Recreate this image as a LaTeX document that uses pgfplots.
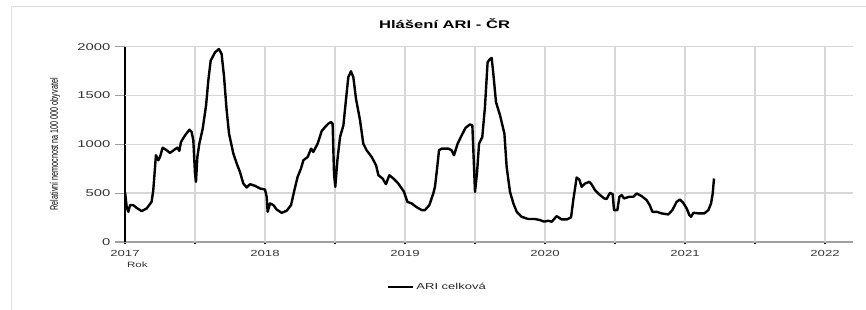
\documentclass[border=0pt]{standalone}
\usepackage{pgfplots}
\pgfplotsset{compat=1.18}
\usepackage{fontspec}
\setmainfont{Liberation Sans}
\usepackage{graphicx}
\newcommand\wide[1]{\scalebox{1.5}[1]{#1}}
\definecolor{axc}{RGB}{160,160,160}
\definecolor{gridc}{RGB}{215,215,215}
\definecolor{framec}{RGB}{222,222,222}

\begin{document}
\begin{tikzpicture}
\useasboundingbox (0,0) rectangle (649.5pt,232.5pt);
\draw[framec, line width=0.75pt] (8.25pt,0pt) -- (8.25pt,227.25pt) -- (649.5pt,227.25pt);
\begin{axis}[
  at={(93.75pt,51pt)}, anchor=south west,
  scale only axis, width=546pt, height=146.5pt,
  xmin=2017, xmax=2022.2, ymin=0, ymax=2000,
  axis x line*=bottom, axis y line*=left,
  axis line style={-},
  x axis line style={draw=axc, line width=1.1pt},
  y axis line style={draw=black, line width=1.1pt},
  tick align=outside,
  major tick length=7.5pt,
  xmajorgrids=true, ymajorgrids=true,
  major grid style={draw=gridc, line width=1.2pt},
  xtick={2017,2017.5,2018,2018.5,2019,2019.5,2020,2020.5,2021,2021.5,2022},
  xticklabels={\wide{2017},,\wide{2018},,\wide{2019},,\wide{2020},,\wide{2021},,\wide{2022}},
  x tick style={black, line width=1.6pt, /pgfplots/major tick length=1.6pt},
  ytick={0,500,1000,1500,2000},
  yticklabels={\wide{0},\wide{500},\wide{1000},\wide{1500},\wide{2000}},
  y tick style={axc, line width=0.9pt},
  xticklabel style={font=\fontsize{6.6}{8}\selectfont, text=black!80, yshift=4.5pt},
  yticklabel style={font=\fontsize{7.4}{9}\selectfont, text=black!80},
  title={\wide{Hlášení ARI - ČR}},
  every axis title/.style={at={(0.439,1.116)}, anchor=center, font=\bfseries\fontsize{8.3}{10}\selectfont},
  xlabel={\wide{Rok}},
  xlabel style={at={(0.017,-0.118)}, anchor=center, font=\fontsize{5.8}{7}\selectfont, text=black!80},
  ylabel={\scalebox{1}[1.5]{Relativní nemocnost na 100 000 obyvatel}},
  ylabel style={at={(-0.096,0.5)}, anchor=center, rotate=0, font=\fontsize{5.4}{6.5}\selectfont},
  legend style={at={(0.43,-0.23)}, anchor=center, draw=none, fill=none, font=\fontsize{6.5}{8}\selectfont, text=black!85},
  legend image code/.code={\draw[#1, line width=0.9pt] (0pt,0pt) -- (18.75pt,0pt);},
]
% grid lines (explicit, same positions as the axis grid)
\draw[gridc, line width=1.2pt] (axis cs:2017,500) -- (axis cs:2022.2,500);
\draw[gridc, line width=1.2pt] (axis cs:2017,1000) -- (axis cs:2022.2,1000);
\draw[gridc, line width=1.2pt] (axis cs:2017,1500) -- (axis cs:2022.2,1500);
\draw[gridc, line width=1.2pt] (axis cs:2017,2000) -- (axis cs:2022.2,2000);
\draw[gridc, line width=1.2pt] (axis cs:2017.5,0) -- (axis cs:2017.5,2000);
\draw[gridc, line width=1.2pt] (axis cs:2018,0) -- (axis cs:2018,2000);
\draw[gridc, line width=1.2pt] (axis cs:2018.5,0) -- (axis cs:2018.5,2000);
\draw[gridc, line width=1.2pt] (axis cs:2019,0) -- (axis cs:2019,2000);
\draw[gridc, line width=1.2pt] (axis cs:2019.5,0) -- (axis cs:2019.5,2000);
\draw[gridc, line width=1.2pt] (axis cs:2020,0) -- (axis cs:2020,2000);
\draw[gridc, line width=1.2pt] (axis cs:2020.5,0) -- (axis cs:2020.5,2000);
\draw[gridc, line width=1.2pt] (axis cs:2021,0) -- (axis cs:2021,2000);
\draw[gridc, line width=1.2pt] (axis cs:2021.5,0) -- (axis cs:2021.5,2000);
\draw[gridc, line width=1.2pt] (axis cs:2022,0) -- (axis cs:2022,2000);
\addplot[black, line width=1.8pt, line join=round, mark=none] table {
x y
2017.000 513
2017.012 360
2017.024 309
2017.036 378
2017.060 376
2017.083 350
2017.119 316
2017.155 344
2017.190 411
2017.202 531
2017.221 888
2017.238 837
2017.250 871
2017.269 966
2017.298 939
2017.321 912
2017.357 949
2017.374 966
2017.388 933
2017.400 1024
2017.429 1092
2017.460 1150
2017.476 1126
2017.488 1041
2017.500 701
2017.507 616
2017.517 871
2017.531 1007
2017.555 1160
2017.579 1398
2017.595 1653
2017.612 1857
2017.643 1942
2017.671 1976
2017.690 1925
2017.707 1700
2017.726 1350
2017.743 1110
2017.774 905
2017.798 803
2017.821 717
2017.845 599
2017.869 558
2017.893 592
2017.929 575
2017.964 548
2018.000 537
2018.012 462
2018.019 309
2018.036 395
2018.060 378
2018.083 333
2018.119 299
2018.155 320
2018.186 378
2018.210 531
2018.233 667
2018.257 752
2018.274 837
2018.305 871
2018.329 956
2018.345 922
2018.376 1007
2018.405 1136
2018.429 1177
2018.452 1211
2018.471 1228
2018.483 1211
2018.493 701
2018.502 565
2018.517 837
2018.536 1075
2018.560 1194
2018.579 1466
2018.595 1687
2018.614 1748
2018.631 1687
2018.650 1466
2018.679 1245
2018.702 1007
2018.726 939
2018.762 871
2018.793 786
2018.810 684
2018.840 650
2018.864 592
2018.888 684
2018.917 650
2018.952 599
2018.993 514
2019.017 411
2019.048 395
2019.079 360
2019.119 327
2019.143 327
2019.174 378
2019.202 497
2019.214 565
2019.229 750
2019.243 939
2019.262 956
2019.310 956
2019.333 939
2019.350 888
2019.376 1007
2019.405 1092
2019.433 1170
2019.464 1204
2019.481 1194
2019.493 769
2019.500 513
2019.514 701
2019.529 1007
2019.552 1075
2019.571 1381
2019.590 1840
2019.607 1874
2019.619 1884
2019.631 1721
2019.650 1432
2019.679 1296
2019.710 1109
2019.726 769
2019.750 513
2019.774 395
2019.798 309
2019.833 258
2019.881 235
2019.929 235
2019.964 225
2019.988 211
2020.000 210
2020.024 218
2020.048 207
2020.083 265
2020.119 231
2020.155 231
2020.186 252
2020.202 429
2020.226 660
2020.245 639
2020.262 565
2020.286 599
2020.317 616
2020.333 590
2020.357 531
2020.393 480
2020.424 446
2020.440 440
2020.464 503
2020.483 490
2020.493 327
2020.517 327
2020.531 463
2020.548 480
2020.564 446
2020.602 463
2020.631 463
2020.655 497
2020.690 470
2020.726 429
2020.750 371
2020.767 309
2020.798 309
2020.833 293
2020.881 282
2020.910 327
2020.940 411
2020.964 435
2020.988 400
2021.012 344
2021.031 276
2021.043 258
2021.060 299
2021.095 293
2021.138 293
2021.167 327
2021.186 395
2021.198 497
2021.207 650
};
\addlegendentry{\wide{ARI celková}}
\end{axis}
\end{tikzpicture}
\end{document}
